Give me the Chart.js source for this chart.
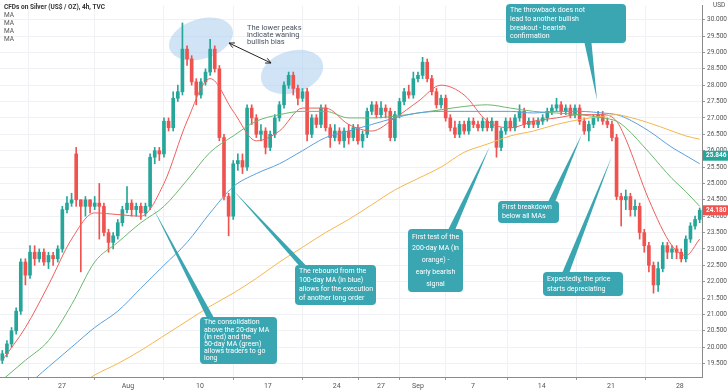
<!DOCTYPE html>
<html>
<head>
<meta charset="utf-8">
<style>
  html, body { margin: 0; padding: 0; background: #ffffff; }
  #wrap { width: 728px; height: 391px; }
</style>
<script src="https://cdn.jsdelivr.net/npm/chart.js@4/dist/chart.umd.min.js"></script>
</head>
<body>
<div id="wrap"><canvas id="chart" width="728" height="391"></canvas></div>
<script>
(function (window, document) {
    'use strict';

    // 8h-ish candles, Jul 21 -> Sep 29 (silver CFD, USD / oz)
    var opens = [19.6,19.8,20.1,20.5,21.1,22.6,22.2,22.9,22.7,22.9, 22.6,22.8,22.7,23.0,24.2,24.4,25.9,24.5,24.3,24.5,
        24.3,24.4,24.3,23.5,23.2,23.4,23.8,24.2,24.4,24.2, 24.3,24.1,24.3,25.8,26.0,25.9,26.9,26.7,27.6,27.8,
        29.1,28.8,28.1,27.7,28.1,28.4,29.1,28.5,26.4,24.6, 24.0,25.6,25.7,25.5,27.3,27.0,26.5,26.6,26.1,26.5,
        27.0,27.4,28.0,28.3,27.9,27.6,27.8,26.5,27.0,26.8, 27.3,26.7,26.4,26.6,26.3,26.6,26.4,26.7,26.3,26.5,
        27.2,27.4,27.1,27.3,27.2,26.4,27.1,27.5,27.8,27.7, 28.2,28.3,28.7,28.2,27.8,27.4,27.6,27.0,26.7,26.5,
        26.8,26.6,26.9,26.8,26.7,26.9,26.7,26.9,26.1,26.6, 26.9,26.7,27.0,27.2,26.8,26.9,26.8,26.9,27.0,27.2,
        27.3,27.4,27.2,27.3,27.1,27.3,26.9,26.6,26.8,27.0, 27.1,26.9,26.8,26.4,24.6,24.5,24.6,24.2,24.3,23.5,
        23.1,22.5,21.9,22.4,23.1,22.9,23.0,22.9,22.7,23.3, 23.7,23.9];
    var highs = [19.9,20.2,20.6,21.2,22.7,22.7,23.1,23.1,23.0,23.0, 22.9,22.9,23.1,24.3,24.6,24.7,26.1,24.5,24.6,24.5,
        24.6,25.0,24.4,23.6,23.5,23.9,24.3,24.9,24.5,24.4, 24.4,24.4,25.9,26.1,26.1,27.0,27.0,27.8,28.0,29.9,
        29.2,28.9,28.2,28.2,28.5,29.4,29.2,28.6,26.5,24.7, 25.7,25.9,25.9,27.4,27.4,27.1,26.8,26.7,26.6,27.1,
        27.5,28.1,28.4,28.4,28.0,27.9,27.9,27.1,27.1,27.4, 27.4,26.8,26.8,26.7,26.7,26.8,26.8,26.8,26.6,27.3,
        27.5,27.5,27.5,27.4,27.3,27.2,27.6,27.9,28.0,28.4, 28.4,28.85,28.8,28.3,27.9,27.7,27.7,27.1,26.9,26.9,
        26.9,27.0,27.0,26.9,27.0,27.0,27.0,26.9,26.7,27.0, 27.0,27.1,27.4,27.3,27.0,27.0,27.0,27.1,27.3,27.4,
        27.6,27.5,27.4,27.4,27.4,27.4,27.0,26.9,27.1,27.2, 27.2,27.0,26.9,26.5,24.7,24.8,24.7,24.5,24.4,23.6,
        23.2,22.6,22.6,23.2,23.2,23.1,23.1,23.0,23.4,23.8, 24.0,24.25];
    var lows = [19.5,19.7,20.0,20.4,21.0,21.9,22.1,22.5,22.6,22.5, 22.4,22.5,22.6,22.9,24.1,24.3,24.3,22.3,24.0,24.1,
        24.2,23.3,23.4,22.9,23.0,23.3,23.7,24.1,24.0,24.0, 23.9,24.0,24.2,25.6,25.7,25.8,26.6,26.6,27.5,27.7,
        28.6,28.0,27.4,27.6,28.0,28.3,28.4,26.3,24.5,23.4, 23.9,25.4,25.3,25.4,26.8,26.4,26.3,25.9,26.0,26.4,
        26.9,27.3,27.9,27.7,27.4,27.5,26.3,26.4,26.7,26.7, 26.6,26.1,26.3,26.2,26.1,26.2,26.3,26.2,26.1,26.4,
        27.1,27.0,27.0,27.0,26.3,26.3,27.0,27.4,27.6,27.6, 28.1,28.2,28.1,27.7,27.3,27.3,26.9,26.6,26.4,26.4,
        26.5,26.5,26.7,26.6,26.6,26.6,26.6,25.8,26.0,26.5, 26.6,26.6,26.9,26.7,26.7,26.7,26.7,26.8,26.9,27.1,
        27.2,27.1,27.1,27.0,27.0,26.8,26.5,26.3,26.7,26.9, 26.8,26.7,26.3,24.5,23.7,24.2,24.0,24.0,23.3,22.9,
        22.3,21.65,21.7,22.3,22.7,22.7,22.7,22.6,22.6,23.2, 23.6,23.8];
    var closes = [19.8,20.1,20.5,21.1,22.6,22.2,22.9,22.7,22.9,22.6, 22.8,22.7,23.0,24.2,24.4,24.5,24.5,24.3,24.5,24.3,
        24.4,24.3,23.5,23.2,23.4,23.8,24.2,24.4,24.2,24.3, 24.1,24.3,25.8,26.0,25.9,26.9,26.7,27.6,27.8,29.1,
        28.8,28.1,27.7,28.1,28.4,29.1,28.5,26.4,24.6,24.0, 25.6,25.7,25.5,27.3,27.0,26.5,26.6,26.1,26.5,27.0,
        27.4,28.0,28.3,27.9,27.6,27.8,26.5,27.0,26.8,27.3, 26.7,26.4,26.6,26.3,26.6,26.4,26.7,26.3,26.5,27.2,
        27.4,27.1,27.3,27.2,26.4,27.1,27.5,27.8,27.7,28.2, 28.3,28.7,28.2,27.8,27.4,27.6,27.0,26.7,26.5,26.8,
        26.6,26.9,26.8,26.7,26.9,26.7,26.9,26.1,26.6,26.9, 26.7,27.0,27.2,26.8,26.9,26.8,26.9,27.0,27.2,27.3,
        27.4,27.2,27.3,27.1,27.3,26.9,26.6,26.8,27.0,27.1, 26.9,26.8,26.4,24.6,24.5,24.6,24.2,24.3,23.5,23.1,
        22.5,21.9,22.4,23.1,22.9,23.0,22.9,22.7,23.3,23.7, 23.9,24.18];

    var maIdx = [0,5,10,15,20,25,30,35,40,45,50,55,60,65,70,75,80,85,90,95,100,105,110,115,120,125,130,133,135,140,145,148,151];
    var ma20 = [19.6,20.6,21.9,23.3,24.1,24.05,24.0,25.0,26.9,28.2,27.2,26.3,26.6,27.3,27.3,26.8,26.6,27.0,27.5,28.0,
        27.7,26.9,26.7,26.9,27.0,27.1,27.1,26.9,26.35,24.5,23.1,22.8,23.3];
    var ma50 = [19.0,19.6,20.2,21.3,22.6,23.2,23.8,24.3,25.1,25.95,26.45,26.9,27.1,27.2,27.2,27.0,27.0,27.05,27.15,27.25,
        27.35,27.4,27.3,27.2,27.15,27.1,27.0,26.9,26.7,25.95,25.15,24.75,24.3];
    var ma100 = [18.3,18.8,19.4,20.0,20.6,21.1,21.8,22.5,23.2,24.1,24.9,25.3,25.6,26.0,26.4,26.6,26.8,27.0,27.15,27.2,
        27.2,27.2,27.2,27.15,27.2,27.2,27.15,27.1,27.0,26.6,26.1,25.85,25.6];
    var ma200 = [17.5,17.9,18.3,18.7,19.15,19.5,19.9,20.35,20.8,21.25,21.65,22.1,22.6,23.05,23.5,23.9,24.35,24.8,25.15,25.5,
        25.95,26.2,26.45,26.6,26.8,26.95,27.05,27.1,27.05,26.85,26.6,26.45,26.35];

    // axis ticks
    var xTickIdx = [12.9, 27.2, 42.8, 57.5, 72.4, 82, 90, 101.9, 116.8, 131.8, 146.7];
    var xTickLabels = ['27', 'Aug', '10', '17', '24', '27', 'Sep', '7', '14', '21', '28'];
    var yTicks = [19.5,20,20.5,21,21.5,22,22.5,23,23.5,24,24.5,25,25.5,26,26.5,27,27.5,28,28.5,29,29.5,30];
    var lastPrice = 24.18;
    var ma100Last = 25.846;

    var UP = '#26a69a';
    var DOWN = '#ef5350';
    var FONT = 'Roboto, "Liberation Sans", sans-serif';

    function candleColor(ctx) {
        var i = ctx.dataIndex;
        return closes[i] >= opens[i] ? UP : DOWN;
    }

    var wicks = closes.map(function (c, i) { return { x: i, y: [lows[i], highs[i]] }; });
    var bodies = closes.map(function (c, i) {
        return { x: i, y: [Math.min(opens[i], c), Math.max(opens[i], c)] };
    });

    function maLine(values, color) {
        return {
            type: 'line',
            data: values.map(function (v, k) { return { x: maIdx[k], y: v }; }),
            borderColor: color,
            borderWidth: 1,
            pointRadius: 0,
            cubicInterpolationMode: 'monotone',
            order: 1
        };
    }

    var callouts = [
        { x: 200, y: 317, w: 77, h: 47, tip: [153, 208], base: [210, 317], align: 'left',
          lines: ['The consolidation', 'above the 20-day MA', '(in red) and the', '50-day MA (green)', 'allows traders to go', 'long'] },
        { x: 295, y: 265, w: 81, h: 40, tip: [232, 189], base: [302, 265], align: 'left',
          lines: ['The rebound from the', '100-day MA (in blue)', 'allows for the execution', 'of another long order'] },
        { x: 408, y: 229, w: 55, h: 63, tip: [490, 146], base: [452, 229], align: 'center',
          lines: ['First test of the', '200-day MA (in', 'orange) -', 'early bearish', 'signal'] },
        { x: 506, y: 4, w: 120, h: 39, tip: [597, 100], base: [588, 43], align: 'left',
          lines: ['The throwback does not', 'lead to another bullish', 'breakout - bearish', 'confirmation'] },
        { x: 498, y: 201, w: 61, h: 22, tip: [582, 134], base: [552, 201], align: 'left',
          lines: ['First breakdown', 'below all MAs'] },
        { x: 543, y: 272, w: 80, h: 24, tip: [612, 156], base: [566, 272], align: 'left',
          lines: ['Expectedly, the price', 'starts depreciating'] }
    ];

    function roundRect(ctx, x, y, w, h, r) {
        ctx.beginPath();
        ctx.moveTo(x + r, y);
        ctx.lineTo(x + w - r, y);
        ctx.quadraticCurveTo(x + w, y, x + w, y + r);
        ctx.lineTo(x + w, y + h - r);
        ctx.quadraticCurveTo(x + w, y + h, x + w - r, y + h);
        ctx.lineTo(x + r, y + h);
        ctx.quadraticCurveTo(x, y + h, x, y + h - r);
        ctx.lineTo(x, y + r);
        ctx.quadraticCurveTo(x, y, x + r, y);
        ctx.closePath();
    }

    function arrowHead(ctx, x, y, ang) {
        ctx.beginPath();
        ctx.moveTo(x + 6 * Math.cos(ang + 0.45), y + 6 * Math.sin(ang + 0.45));
        ctx.lineTo(x, y);
        ctx.lineTo(x + 6 * Math.cos(ang - 0.45), y + 6 * Math.sin(ang - 0.45));
        ctx.stroke();
    }

    var overlay = {
        id: 'overlay',
        beforeDatasetsDraw: function (chart) {
            var ctx = chart.ctx;
            ctx.save();
            ctx.fillStyle = 'rgba(170, 205, 238, 0.55)';
            [[201, 39, 33, 20], [292, 72, 32, 21]].forEach(function (e) {
                ctx.beginPath();
                ctx.ellipse(e[0], e[1], e[2], e[3], -0.3, 0, Math.PI * 2);
                ctx.fill();
            });
            ctx.restore();
        },
        afterDraw: function (chart) {
            var ctx = chart.ctx;
            var yScale = chart.scales.y;
            ctx.save();

            // header
            ctx.textBaseline = 'middle';
            ctx.textAlign = 'left';
            ctx.fillStyle = '#333';
            ctx.font = 'bold 6.5px ' + FONT;
            ctx.fillText('CFDs on Silver (US$ / OZ), 4h, TVC', 4, 7);
            ctx.font = '6.5px ' + FONT;
            ctx.fillStyle = '#555';
            [15, 23, 31, 39].forEach(function (y) { ctx.fillText('MA', 4, y); });

            // lower peaks note + arrow
            ctx.fillStyle = '#4a5560';
            ctx.font = '7.5px ' + FONT;
            ctx.fillText('The lower peaks', 247, 28);
            ctx.fillText('indicate waning', 247, 35);
            ctx.fillText('bullish bias', 247, 42);
            ctx.strokeStyle = '#222';
            ctx.lineWidth = 1;
            ctx.beginPath();
            ctx.moveTo(229, 43);
            ctx.lineTo(271, 63);
            ctx.stroke();
            var ang = Math.atan2(63 - 43, 271 - 229);
            arrowHead(ctx, 229, 43, ang);
            arrowHead(ctx, 271, 63, ang + Math.PI);

            // callouts
            callouts.forEach(function (c) {
                ctx.fillStyle = '#3aa6b1';
                ctx.beginPath();
                ctx.moveTo(c.tip[0], c.tip[1]);
                ctx.lineTo(c.base[0] - 3.5, c.base[1]);
                ctx.lineTo(c.base[0] + 3.5, c.base[1]);
                ctx.closePath();
                ctx.fill();
                roundRect(ctx, c.x, c.y, c.w, c.h, 4);
                ctx.fill();
                ctx.fillStyle = '#ffffff';
                ctx.font = '7px ' + FONT;
                ctx.textAlign = c.align;
                var lh = (c.h - 4) / c.lines.length;
                var tx = c.align === 'center' ? c.x + c.w / 2 : c.x + 4;
                c.lines.forEach(function (t, k) {
                    ctx.fillText(t, tx, c.y + 2 + lh * (k + 0.5));
                });
            });

            // axis currency + price tags
            ctx.textAlign = 'left';
            ctx.fillStyle = '#555';
            ctx.font = '6.5px ' + FONT;
            ctx.fillText('USD', 713, 5);
            [[ma100Last, '#26a69a'], [lastPrice, '#ef5350']].forEach(function (t) {
                var py = yScale.getPixelForValue(t[0]);
                ctx.fillStyle = t[1];
                ctx.fillRect(703, py - 5, 25, 10);
                ctx.fillStyle = '#fff';
                ctx.font = 'bold 6.5px ' + FONT;
                ctx.fillText(t[0].toFixed(3), 706, py);
            });
            ctx.restore();
        }
    };

    new Chart(document.getElementById('chart'), {
        type: 'bar',
        data: {
            datasets: [
                {
                    data: wicks,
                    backgroundColor: candleColor,
                    barThickness: 1,
                    grouped: false,
                    order: 3
                },
                {
                    data: bodies,
                    backgroundColor: candleColor,
                    barThickness: 3,
                    minBarLength: 1,
                    grouped: false,
                    order: 2
                },
                maLine(ma200, '#f6b64f'),
                maLine(ma100, '#5b9fdc'),
                maLine(ma50, '#6cb86e'),
                maLine(ma20, '#ee5f5b')
            ]
        },
        options: {
            responsive: false,
            animation: false,
            layout: { padding: 0 },
            plugins: {
                legend: { display: false },
                tooltip: { enabled: false }
            },
            scales: {
                x: {
                    type: 'linear',
                    min: -0.5,
                    max: closes.length - 0.5,
                    offset: false,
                    afterBuildTicks: function (s) {
                        s.ticks = xTickIdx.map(function (v) { return { value: v }; });
                    },
                    afterFit: function (s) { s.height = 14; },
                    ticks: {
                        autoSkip: false,
                        maxRotation: 0,
                        padding: 2,
                        color: '#555',
                        font: { size: 7, family: FONT },
                        callback: function (v, i) { return xTickLabels[i]; }
                    },
                    grid: { color: '#eff1f5', tickLength: 3, tickColor: '#999' },
                    border: { color: '#8a8a8a' }
                },
                y: {
                    position: 'right',
                    min: 19.09,
                    max: 30.42,
                    afterBuildTicks: function (s) {
                        s.ticks = yTicks.map(function (v) { return { value: v }; });
                    },
                    afterFit: function (s) { s.width = 26; },
                    ticks: {
                        padding: 2,
                        color: '#555',
                        font: { size: 6.5, family: FONT },
                        callback: function (v) { return Number(v).toFixed(3); }
                    },
                    grid: { color: '#eff1f5', tickLength: 3, tickColor: '#999' },
                    border: { color: '#8a8a8a' }
                }
            }
        },
        plugins: [overlay]
    });
})(window, document);
</script>
</body>
</html>
